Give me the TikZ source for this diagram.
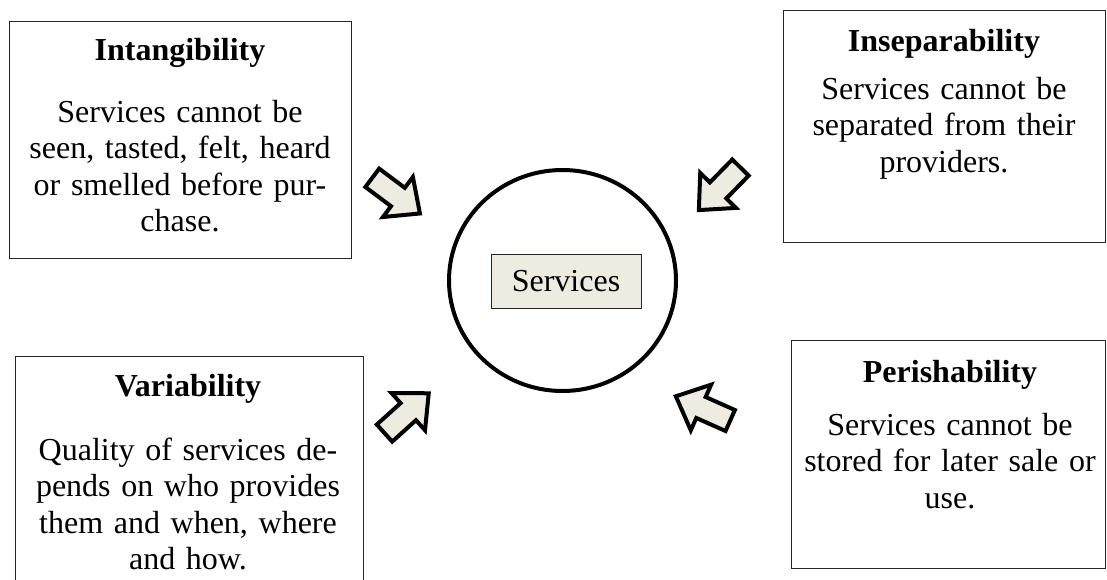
\documentclass[tikz,border=0pt]{standalone}
\usepackage{fontspec}
\setmainfont{Liberation Serif}
\definecolor{cream}{HTML}{EEECE1}
\tikzset{
  infobox/.style={draw=black!85, line width=1pt, inner sep=0pt},
  titletext/.style={font=\fontsize{32}{36.6}\selectfont\bfseries, inner sep=0pt, anchor=base},
  bodytext/.style={font=\fontsize{32}{36.6}\selectfont, inner sep=0pt, anchor=base, align=center, text width=340pt},
  blockarrow/.style={draw=black, fill=cream, line width=4pt, line join=miter},
}
\newcommand{\blockarrowpath}{(-30,-11.5) -- (2,-11.5) -- (2,-25) -- (29.5,0) -- (2,25) -- (2,11.5) -- (-30,11.5) -- cycle}
\begin{document}
\begin{tikzpicture}[x=1pt,y=-1pt]
\useasboundingbox (0,0) rectangle (1107,579);
\clip (0,0) rectangle (1107,579);
% boxes
\node[infobox, minimum width=342pt, minimum height=237pt] (intang) at (180,139.5) {};
\node[infobox, minimum width=322pt, minimum height=232pt] (insep) at (944,126) {};
\node[infobox, minimum width=348pt, minimum height=244pt] (variab) at (189,478) {};
\node[infobox, minimum width=314pt, minimum height=228pt] (perish) at (948,454) {};
% texts
\node[titletext] (intangT) at (180,60) {Intangibility};
\node[bodytext] (intangB) at (180,122) {Services cannot be\\seen, tasted, felt, heard\\or smelled before pur-\\chase.};
\node[titletext] (insepT) at (944,51) {Inseparability};
\node[bodytext] (insepB) at (944,99) {Services cannot be\\separated from their\\providers.};
\node[titletext] (variabT) at (188,396) {Variability};
\node[bodytext] (variabB) at (188,460) {Quality of services de-\\pends on who provides\\them and when, where\\and how.};
\node[titletext] (perishT) at (950,382) {Perishability};
\node[bodytext] (perishB) at (950,435) {Services cannot be\\stored for later sale or\\use.};
% centre
\draw[line width=4pt] (562.5,280.5) ellipse [x radius=113.5pt, y radius=110.5pt];
\node[infobox, fill=cream, minimum width=150pt, minimum height=54pt, font=\fontsize{32}{36.6}\selectfont] (services) at (566,281) {Services};
% block arrows
\begin{scope}[shift={(396.3,195.8)}, rotate=-36.8]
  \draw[blockarrow] \blockarrowpath;
\end{scope}
\begin{scope}[shift={(719.5,189)}, rotate=-134.4]
  \draw[blockarrow] \blockarrowpath;
\end{scope}
\begin{scope}[shift={(406.8,413)}, rotate=42]
  \draw[blockarrow] \blockarrowpath;
\end{scope}
\begin{scope}[shift={(702.8,408.3)}, rotate=156]
  \draw[blockarrow] \blockarrowpath;
\end{scope}
\end{tikzpicture}
\end{document}
